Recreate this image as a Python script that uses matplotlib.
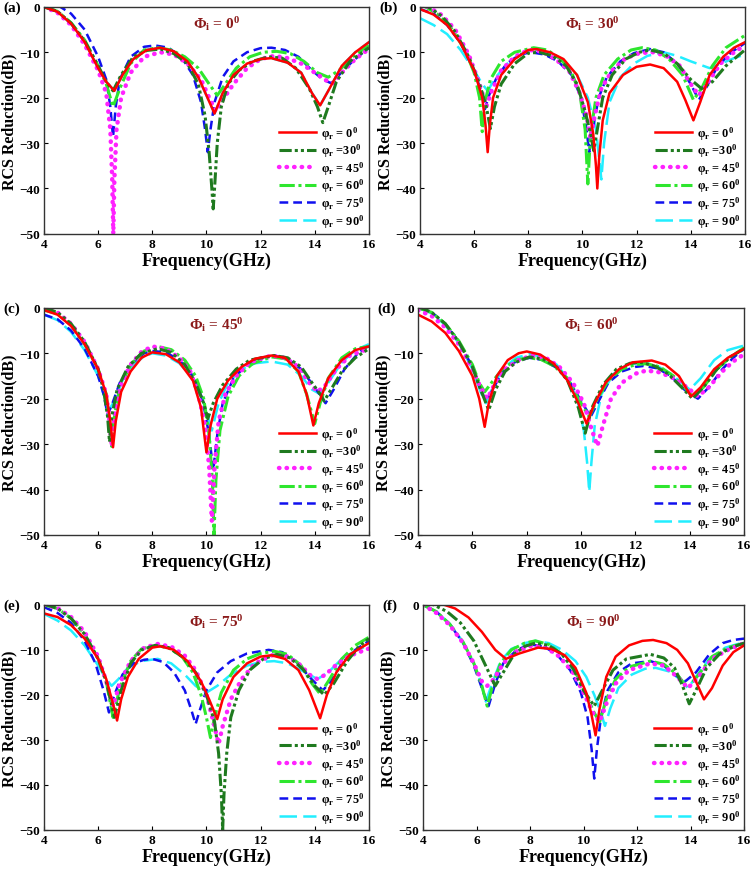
import numpy as np
import matplotlib
matplotlib.use('Agg')
import matplotlib.pyplot as plt

plt.rcParams['font.family'] = ['Liberation Serif', 'DejaVu Serif']
plt.rcParams['font.weight'] = 'bold'
plt.rcParams['mathtext.fontset'] = 'custom'
plt.rcParams['mathtext.rm'] = 'Liberation Serif:bold'
plt.rcParams['mathtext.it'] = 'Liberation Serif:bold'
plt.rcParams['mathtext.bf'] = 'Liberation Serif:bold'

# (frequency GHz, RCS reduction dB)
# panel (a) phi_i = 0
A0 = [(4,0),(4.5,-1.1),(5,-3.7),(5.5,-7.7),(6,-13.5),(6.3,-16.5),(6.6,-18.5),(6.9,-15),(7.3,-11.5),(7.8,-9.5),(8.3,-9),(8.8,-9.8),(9.3,-12),(9.7,-15.5),(10.0,-19.5),(10.3,-23.5),(10.6,-19),(11,-15),(11.5,-12.5),(12,-11.5),(12.4,-11.3),(13,-12.3),(13.5,-14.5),(13.9,-19),(14.2,-21.7),(14.5,-18.5),(15,-13),(15.5,-10),(16,-7.8)]
A30 = [(4,0),(4.5,-1),(5,-3.6),(5.5,-7.5),(6,-13),(6.3,-16.5),(6.55,-18.5),(6.85,-15),(7.3,-11),(7.8,-9.6),(8.3,-9.3),(8.8,-10.3),(9.3,-12.5),(9.7,-17),(9.95,-24),(10.1,-32),(10.2,-40),(10.25,-44.5),(10.3,-40),(10.4,-30),(10.55,-22),(10.8,-17),(11.2,-14),(11.7,-12),(12.3,-11),(12.8,-11.3),(13.3,-13.5),(13.8,-18),(14.1,-22),(14.3,-25.5),(14.5,-22),(14.8,-16.5),(15.3,-12),(16,-9)]
A45 = [(4,0),(4.5,-1.3),(5,-4),(5.5,-8.3),(6,-14),(6.3,-19),(6.45,-27),(6.52,-38),(6.56,-50),(6.6,-38),(6.68,-27),(6.85,-20),(7.2,-14.5),(7.7,-11),(8.3,-10),(8.8,-10.5),(9.3,-12.5),(9.8,-16),(10.1,-20),(10.35,-23),(10.6,-20.5),(11,-17),(11.5,-13.5),(12,-11.5),(12.5,-10.8),(13,-11.3),(13.5,-12.5),(14,-14.5),(14.5,-16.5),(14.7,-16.8),(15,-14.5),(15.5,-11.5),(16,-9.3)]
A60 = [(4,0),(4.5,-1),(5,-3.5),(5.5,-7.3),(6,-13),(6.3,-17),(6.55,-22),(6.8,-18),(7.2,-12.5),(7.7,-9.5),(8.2,-9),(8.7,-9.5),(9.2,-11),(9.7,-13.5),(10.1,-17),(10.4,-19.5),(10.7,-17),(11.1,-13.5),(11.6,-11),(12.1,-10),(12.6,-9.8),(13.1,-10.3),(13.6,-12),(14.1,-14.5),(14.5,-15.5),(14.9,-14),(15.4,-11),(16,-8.5)]
A75 = [(4,0.5),(4.6,0),(5,-1.5),(5.5,-5),(6,-11),(6.3,-16),(6.45,-22),(6.55,-28.7),(6.65,-22),(6.8,-16),(7.2,-11),(7.7,-8.8),(8.1,-8.5),(8.6,-9),(9.1,-11.3),(9.5,-15),(9.8,-21),(9.95,-27),(10.05,-32),(10.15,-27),(10.3,-21),(10.6,-15.5),(11,-12),(11.5,-10),(12,-9.1),(12.4,-9),(12.9,-9.5),(13.4,-11),(13.9,-14),(14.3,-16),(14.6,-16.8),(14.9,-15),(15.4,-12),(16,-9)]
A90 = list(A0)  # hidden under the red curve

# panel (b) phi_i = 30
B0 = [(4,-0.5),(4.5,-1.7),(5,-4),(5.5,-8),(6,-14),(6.3,-20),(6.42,-26),(6.5,-32),(6.58,-26),(6.7,-20),(7.0,-15),(7.5,-11.5),(8.0,-9.5),(8.3,-9.3),(8.8,-10),(9.3,-11.5),(9.8,-15),(10.2,-21),(10.4,-28),(10.5,-35),(10.55,-40),(10.62,-33),(10.75,-25),(11,-19),(11.5,-15),(12,-13.2),(12.5,-12.7),(13,-13.5),(13.5,-16.5),(13.8,-20.5),(14.1,-25),(14.35,-21),(14.7,-15),(15.2,-11),(15.6,-9),(16,-7.8)]
B30 = [(4,0.5),(4.3,0),(4.8,-2),(5.3,-5.5),(5.8,-11),(6.2,-17),(6.45,-22),(6.6,-26.8),(6.75,-22),(7.0,-17),(7.5,-12.5),(8.0,-10.2),(8.4,-10),(8.9,-10.8),(9.4,-13),(9.8,-17),(10.1,-23),(10.3,-28),(10.42,-31.7),(10.55,-27),(10.75,-20),(11.1,-15),(11.6,-11.5),(12.1,-10),(12.5,-9.5),(13,-10.2),(13.5,-12.5),(14,-16),(14.4,-18),(14.8,-16.5),(15.3,-13),(16,-9.5)]
B45 = [(4,0.3),(4.3,0),(4.8,-1.8),(5.3,-5),(5.8,-10.5),(6.2,-17),(6.45,-22),(6.65,-18.5),(7.0,-14),(7.5,-11),(8.0,-9.5),(8.5,-9.8),(9.0,-11.5),(9.5,-14),(9.9,-19),(10.15,-24),(10.3,-29),(10.45,-24),(10.7,-18),(11.1,-14),(11.6,-11.3),(12.1,-10.2),(12.6,-10),(13.1,-10.8),(13.6,-13),(14.0,-17),(14.3,-19.5),(14.6,-17),(15.1,-12.5),(15.6,-10),(16,-8.5)]
B60 = [(4,0.3),(4.2,0),(4.7,-1.8),(5.2,-5),(5.7,-10),(6.0,-14.5),(6.2,-20),(6.3,-27.5),(6.4,-21),(6.6,-16),(7.0,-12),(7.5,-10),(8.2,-9),(8.7,-9.5),(9.2,-11.5),(9.6,-14.5),(9.9,-19),(10.1,-27),(10.2,-39),(10.3,-28),(10.5,-20),(10.8,-15),(11.3,-11.5),(11.8,-9.5),(12.2,-9),(12.7,-9.5),(13.2,-11.5),(13.7,-15),(14.1,-20.5),(14.4,-18),(14.8,-13),(15.3,-9),(16,-6.3)]
B75 = [(4,-0.5),(4.5,-1.5),(5,-4),(5.5,-8),(6,-14),(6.25,-18.5),(6.4,-22.5),(6.55,-19.5),(6.8,-16),(7.2,-12.5),(7.7,-10.5),(8.1,-10),(8.6,-10.5),(9.1,-12),(9.6,-15),(9.95,-20),(10.15,-27),(10.25,-32),(10.38,-27),(10.6,-20),(10.9,-15.5),(11.4,-12),(11.9,-10.2),(12.5,-9.3),(13,-10),(13.5,-12.5),(14,-17),(14.3,-20.5),(14.6,-17.5),(15,-13),(15.5,-10),(16,-8)]
B90 = [(4,-2.5),(4.5,-4),(5,-6),(5.5,-9.5),(6,-14),(6.3,-17),(6.5,-18.5),(6.8,-15.5),(7.3,-12),(7.8,-10.2),(8.3,-9.5),(8.8,-10.2),(9.3,-11.8),(9.8,-15),(10.2,-20),(10.5,-27),(10.7,-38),(10.8,-30),(11,-21),(11.4,-15.5),(11.9,-12.5),(12.4,-10.8),(13.0,-10),(13.5,-10.8),(14.0,-12),(14.7,-13.5),(15.2,-12.3),(15.6,-11.3),(16,-10.5)]

# panel (c) phi_i = 45
C0 = [(4,-0.5),(4.5,-1.5),(5,-4),(5.5,-8),(6,-13.5),(6.3,-19),(6.45,-25),(6.55,-30.7),(6.65,-25),(6.85,-18.5),(7.2,-14),(7.6,-11),(8.0,-9.8),(8.5,-10.2),(9,-12),(9.5,-16),(9.8,-22),(10.0,-31.8),(10.15,-26),(10.4,-20),(10.8,-16),(11.3,-13),(11.8,-11.2),(12.4,-10.5),(12.9,-11),(13.4,-14),(13.7,-19),(13.95,-25.9),(14.15,-21),(14.5,-15.5),(15,-11.5),(15.5,-9.3),(16,-8.5)]
C30 = [(4,0),(4.5,-1),(5,-3.5),(5.5,-7.5),(6,-13.5),(6.2,-18),(6.35,-24),(6.42,-29.5),(6.5,-24),(6.7,-18),(7.1,-13),(7.6,-10),(8.2,-9),(8.7,-9.8),(9.2,-12.5),(9.6,-16.5),(9.9,-21),(10.05,-24.4),(10.25,-21),(10.6,-17),(11.1,-13.5),(11.6,-11.5),(12.5,-10.5),(13,-11),(13.5,-13),(13.9,-16.5),(14.2,-19),(14.35,-20.5),(14.6,-18),(15,-14),(15.5,-11),(16,-9)]
C45 = [(4,0),(4.5,-1),(5,-3.5),(5.5,-7.5),(6,-13.5),(6.3,-19),(6.42,-25),(6.5,-30.5),(6.6,-24),(6.8,-17.5),(7.2,-12.5),(7.6,-9.7),(8.0,-8.5),(8.5,-9),(9,-11),(9.4,-14),(9.7,-19),(9.95,-26),(10.1,-35),(10.2,-47),(10.3,-35),(10.45,-25),(10.7,-19),(11.1,-15),(11.6,-12),(12.4,-10.5),(12.9,-11),(13.4,-13),(13.8,-16.5),(14.1,-18.5),(14.4,-17),(14.8,-13.5),(15.3,-10.5),(16,-9)]
C60 = [(4,-0.5),(4.5,-1.3),(5,-3.8),(5.5,-8),(6,-13.5),(6.3,-19),(6.42,-25),(6.5,-30.5),(6.6,-24),(6.8,-17.5),(7.2,-12.5),(7.7,-9.5),(8.2,-8.5),(8.7,-9.2),(9.2,-11.5),(9.6,-15),(9.9,-20),(10.1,-28),(10.22,-38),(10.28,-50),(10.35,-38),(10.5,-27),(10.8,-19.5),(11.2,-15),(11.7,-12.3),(12.4,-10.8),(12.9,-11.2),(13.4,-14),(13.7,-19),(14.0,-25.5),(14.2,-21),(14.5,-15.5),(15,-11),(15.5,-9),(16,-8.5)]
C75 = [(4,-1.5),(4.5,-2.5),(5,-5),(5.5,-9),(6,-15),(6.2,-19),(6.35,-23.5),(6.5,-21.5),(6.8,-16.5),(7.2,-12.5),(7.7,-10),(8.0,-9.5),(8.5,-9.8),(9,-11.5),(9.5,-15),(9.85,-20),(10.1,-28),(10.25,-35.8),(10.4,-28),(10.6,-21),(11,-15.5),(11.5,-12.5),(12.0,-11),(12.5,-10.5),(13,-11.2),(13.5,-13.5),(14.0,-17.5),(14.4,-21),(14.7,-18),(15.1,-13.5),(15.6,-10),(16,-8.3)]
C90 = [(4,-1.5),(4.5,-2.7),(5,-5.3),(5.5,-9.3),(6,-15),(6.2,-19),(6.4,-22.5),(6.6,-20.5),(6.9,-16),(7.3,-12.5),(7.7,-10.7),(8.0,-10),(8.5,-10.5),(9,-12.2),(9.5,-15.5),(9.9,-21),(10.2,-27),(10.45,-21),(10.8,-16.5),(11.3,-13.5),(11.8,-12.2),(12.4,-11.8),(13,-12.5),(13.5,-15),(13.9,-18),(14.2,-19),(14.5,-16.5),(15,-12),(15.5,-9.3),(16,-8)]

# panel (d) phi_i = 60
D0 = [(4,-1.5),(4.5,-3),(5,-5.5),(5.5,-9.5),(6,-15),(6.25,-20),(6.45,-26.2),(6.6,-21),(6.9,-15),(7.3,-11.5),(7.7,-10),(8.0,-9.6),(8.5,-10.3),(9,-12.3),(9.5,-16),(9.9,-21),(10.2,-25.5),(10.5,-21),(10.9,-16.5),(11.4,-13.5),(11.9,-12),(12.6,-11.6),(13.1,-12.5),(13.6,-15),(14.05,-19.5),(14.4,-17.5),(14.9,-13.5),(15.4,-11),(16,-9)]
D30 = [(4,0.3),(4.5,-1),(5,-3.5),(5.5,-7.5),(6,-13),(6.3,-18),(6.6,-22.5),(6.85,-18),(7.2,-14),(7.6,-12),(8.1,-10.8),(8.6,-11.3),(9.1,-13),(9.5,-16),(9.9,-22),(10.15,-27.6),(10.4,-22),(10.8,-17),(11.3,-13.5),(11.8,-12.2),(12.2,-12),(12.7,-12.8),(13.2,-14.5),(13.7,-17.5),(14.1,-20),(14.5,-17.5),(15,-13.5),(15.5,-10.8),(16,-9)]
D45 = [(4,-0.5),(4.5,-1.8),(5,-4.3),(5.5,-8),(6,-13.5),(6.3,-17.5),(6.55,-20),(6.8,-17),(7.2,-13.5),(7.7,-11.5),(8.2,-10.5),(8.7,-11),(9.2,-13),(9.7,-16.5),(10.1,-21),(10.4,-27),(10.6,-30.4),(10.8,-26),(11.1,-20),(11.5,-16.5),(12,-14.5),(12.4,-13.8),(12.9,-14.2),(13.4,-15.5),(13.9,-17.5),(14.3,-19.5),(14.7,-17.5),(15.2,-14),(15.6,-11.8),(16,-10.2)]
D60 = [(4,0),(4.5,-1),(5,-3.5),(5.5,-7.3),(6,-12.5),(6.25,-16.5),(6.45,-18.5),(6.7,-16.5),(7.1,-13.5),(7.6,-11.5),(8.0,-11),(8.5,-11.3),(9,-12.8),(9.5,-15.5),(9.9,-20),(10.3,-24),(10.6,-20),(11,-16),(11.5,-13.5),(12,-12.5),(12.4,-12.3),(12.9,-13),(13.4,-15),(13.8,-17.5),(14.1,-19.5),(14.5,-17.5),(15,-13.5),(15.5,-10.8),(16,-8.8)]
D75 = [(4,0),(4.5,-1),(5,-3.5),(5.5,-7.5),(6,-13),(6.3,-18),(6.5,-20.5),(6.75,-18),(7.1,-14),(7.6,-11.8),(8.1,-11),(8.6,-11.5),(9.1,-13.2),(9.6,-16.5),(10,-20.5),(10.35,-24),(10.65,-20.5),(11,-16.5),(11.5,-14),(12,-13),(12.3,-12.8),(12.8,-13.3),(13.3,-15),(13.8,-18),(14.3,-20),(14.7,-17.5),(15.2,-13.5),(15.6,-11),(16,-9)]
D90 = [(4,0),(4.5,-1.2),(5,-3.8),(5.5,-7.8),(6,-13.5),(6.3,-18.5),(6.5,-21),(6.75,-17.5),(7.1,-13.5),(7.6,-11),(8.1,-10.2),(8.6,-10.8),(9.1,-12.5),(9.5,-15.5),(9.85,-20),(10.1,-27),(10.22,-34),(10.3,-40.5),(10.38,-34),(10.5,-26),(10.75,-19),(11.2,-14.5),(11.7,-12.5),(12.3,-12),(12.8,-12.8),(13.3,-14.5),(13.7,-16.5),(14.0,-18),(14.4,-15.5),(14.9,-11.5),(15.4,-9.3),(16,-8.3)]

# panel (e) phi_i = 75
E0 = [(4,-1.9),(4.5,-2.7),(5,-4.5),(5.5,-7.5),(6,-12),(6.3,-16.5),(6.55,-22),(6.7,-25.7),(6.85,-21),(7.1,-16),(7.5,-12),(8.0,-9.5),(8.3,-9.2),(8.8,-10),(9.3,-12.5),(9.8,-17),(10.1,-21),(10.4,-25.4),(10.6,-21),(11,-16),(11.5,-13),(12,-11.5),(12.4,-11.2),(12.9,-12),(13.4,-14.5),(13.8,-19),(14.2,-25.2),(14.45,-20),(14.8,-15),(15.3,-11),(16,-8.5)]
E30 = [(4,0.2),(4.5,-0.8),(5,-3),(5.5,-6.5),(6,-12),(6.3,-17),(6.6,-25),(6.85,-19),(7.2,-13),(7.6,-10),(8.1,-9),(8.6,-9.5),(9.1,-11.5),(9.6,-15),(10.0,-20),(10.3,-26),(10.45,-33),(10.55,-42),(10.6,-50),(10.65,-42),(10.75,-33),(10.9,-25),(11.2,-19),(11.6,-14.5),(12.1,-12),(12.6,-11),(13.1,-11.8),(13.6,-14.5),(14.0,-18),(14.35,-20),(14.7,-17.5),(15.2,-12.5),(15.6,-9.5),(16,-7.5)]
E45 = [(4,0),(4.5,-0.7),(5,-2.7),(5.5,-6),(6,-11.5),(6.3,-17),(6.55,-22.5),(6.8,-17.5),(7.2,-12.5),(7.7,-9.5),(8.2,-8.7),(8.7,-9.3),(9.2,-11.3),(9.6,-14.5),(10.0,-20),(10.3,-27),(10.45,-30.9),(10.6,-27),(10.9,-21),(11.3,-16.5),(11.8,-13),(12.5,-11),(13,-11.5),(13.5,-13.5),(13.8,-15.5),(14.1,-16.5),(14.4,-15.5),(14.8,-13.3),(15.3,-11.3),(16,-9.7)]
E60 = [(4,0),(4.5,-0.8),(5,-3),(5.5,-6.5),(6,-12),(6.3,-17),(6.55,-25),(6.8,-18.5),(7.2,-12.5),(7.6,-9.8),(8.1,-9),(8.6,-9.5),(9.1,-11.5),(9.5,-15),(9.8,-20),(10.0,-25),(10.15,-29.5),(10.3,-25),(10.55,-19.5),(11,-14.5),(11.5,-12),(12,-10.8),(12.5,-10.3),(13,-11),(13.5,-13.5),(13.9,-17.5),(14.2,-19.8),(14.5,-17),(15,-12),(15.5,-9),(16,-7.2)]
E75 = [(4,-0.5),(4.5,-1.8),(5,-4),(5.5,-8),(5.9,-13),(6.2,-19),(6.4,-23.9),(6.6,-20),(6.9,-15.5),(7.3,-13),(7.7,-12.2),(8.0,-12),(8.4,-12.7),(8.8,-15),(9.2,-19),(9.45,-23.5),(9.6,-26.5),(9.75,-23.5),(10.0,-19),(10.4,-15),(10.9,-12.5),(11.5,-10.8),(12.3,-10),(12.8,-10.5),(13.3,-12.5),(13.8,-16),(14.3,-19),(14.6,-17),(15,-13),(15.5,-10),(16,-8)]
E90 = [(4,-2),(4.5,-3.5),(5,-5.7),(5.5,-9),(6,-13.5),(6.3,-16.5),(6.5,-18),(6.75,-16.5),(7.1,-14),(7.6,-12.5),(8.2,-12),(8.7,-13),(9.2,-15.5),(9.6,-18),(10.0,-19.5),(10.4,-18),(10.9,-15.5),(11.5,-13.5),(12.0,-12.7),(12.5,-12.5),(13,-13),(13.5,-14.5),(14.1,-16.5),(14.5,-15),(15,-12),(15.5,-10.2),(16,-9)]

# panel (f) phi_i = 90
F0 = [(4,1),(4.5,0.5),(4.8,0),(5.2,-0.8),(5.7,-2.8),(6.2,-6),(6.7,-10),(7.1,-12),(7.6,-10.8),(8.3,-9.5),(8.8,-9.8),(9.3,-11.2),(9.7,-14),(10.1,-19.5),(10.3,-24.5),(10.45,-29),(10.6,-23),(10.85,-16),(11.2,-11.5),(11.7,-9),(12.2,-8),(12.6,-7.8),(13.1,-8.5),(13.5,-10),(13.9,-13),(14.2,-17),(14.5,-21),(14.8,-18.5),(15.2,-13.5),(15.6,-10.5),(16,-9)]
F30 = [(4,1),(4.4,0),(4.9,-1.5),(5.4,-4),(5.9,-8),(6.3,-13),(6.7,-18),(7.0,-15),(7.4,-11),(7.8,-9.2),(8.2,-8.5),(8.7,-9),(9.2,-11),(9.6,-14),(10.0,-19),(10.4,-22.5),(10.7,-19),(11.1,-14.5),(11.6,-12),(12.5,-11),(13.0,-11.8),(13.4,-14),(13.7,-18),(13.95,-22),(14.2,-19),(14.6,-14),(15.1,-10.8),(15.6,-9.3),(16,-8.5)]
F45 = [(4,0),(4.5,-1.8),(5,-4.5),(5.5,-8.5),(5.9,-13),(6.2,-17),(6.4,-18),(6.65,-16.5),(7.0,-13),(7.5,-10.3),(8.1,-9),(8.6,-9.5),(9.1,-11.5),(9.6,-15),(10.0,-19.5),(10.35,-24),(10.6,-26),(10.85,-22),(11.2,-17.5),(11.7,-14.5),(12.5,-13),(13,-13.5),(13.5,-16),(13.9,-18.5),(14.3,-16),(14.8,-12),(15.4,-10),(16,-8.5)]
F60 = [(4,0),(4.5,-1.5),(5,-4.3),(5.5,-8.3),(5.9,-13),(6.2,-18),(6.4,-22.5),(6.6,-18),(6.9,-13),(7.3,-10),(7.8,-8.5),(8.2,-8),(8.7,-8.8),(9.2,-11),(9.7,-15),(10.1,-20),(10.4,-24),(10.6,-26),(10.85,-21),(11.2,-16.5),(11.7,-13.8),(12.5,-12.5),(13,-13.2),(13.5,-15.5),(13.9,-18.5),(14.3,-15.5),(14.8,-11.5),(15.4,-9.5),(16,-8.5)]
F75 = [(4,0),(4.5,-1.5),(5,-4.3),(5.5,-8.5),(5.9,-13.5),(6.2,-18.5),(6.45,-22.5),(6.7,-17.5),(7.0,-13),(7.5,-10),(8.0,-8.8),(8.5,-9.2),(9.0,-11),(9.5,-14.5),(9.9,-19.5),(10.15,-25),(10.3,-32),(10.4,-38.6),(10.5,-32),(10.65,-25),(10.9,-19),(11.3,-15),(11.8,-13),(12.5,-12.5),(13,-13.5),(13.4,-15.5),(13.8,-17),(14.2,-15),(14.7,-11),(15.2,-8.5),(15.6,-7.8),(16,-7.5)]
F90 = [(4,0),(4.5,-1.5),(5,-4.2),(5.5,-8.3),(5.9,-13),(6.15,-17),(6.35,-21.5),(6.55,-18),(6.9,-12.5),(7.3,-9.8),(7.8,-8.5),(8.2,-8),(8.7,-8.5),(9.2,-10),(9.7,-12.5),(10.1,-16),(10.4,-20),(10.65,-24),(10.8,-26.9),(11.0,-23),(11.3,-18.5),(11.8,-15.5),(12.3,-14.2),(12.7,-14),(13.2,-14.8),(13.6,-16.5),(13.9,-18.5),(14.2,-16),(14.7,-12),(15.3,-9.5),(16,-8.3)]

panel_tags = ['(a)', '(b)', '(c)', '(d)', '(e)', '(f)']
phi_i = ['0', '30', '45', '60', '75', '90']
legend_labels = ['φ$_r$ = 0$^0$', 'φ$_r$ =30$^0$', 'φ$_r$ = 45$^0$',
                 'φ$_r$ = 60$^0$', 'φ$_r$ = 75$^0$', 'φ$_r$ = 90$^0$']
panels = [[A0, A30, A45, A60, A75, A90],
          [B0, B30, B45, B60, B75, B90],
          [C0, C30, C45, C60, C75, C90],
          [D0, D30, D45, D60, D75, D90],
          [E0, E30, E45, E60, E75, E90],
          [F0, F30, F45, F60, F75, F90]]

styles = [dict(color='red', ls='-', lw=1.8),
          dict(color='#1f7a1f', ls=(0, (4, 1, 1, 1, 1, 1)), lw=2.2),
          dict(color='#ff22ff', ls=(0, (0.1, 1.6)), lw=3.2, dash_capstyle='round'),
          dict(color='#2ee62e', ls=(0, (5, 1.2, 1, 1.2)), lw=2.2),
          dict(color='#1010ee', ls=(0, (3.5, 2)), lw=1.8),
          dict(color='#22eeff', ls=(0, (7, 2.5)), lw=1.8)]

# axes boxes [left, bottom, width, height] in figure fractions
boxes = [[0.0585, 0.730, 0.432, 0.261],
         [0.5585, 0.730, 0.432, 0.261],
         [0.0585, 0.384, 0.432, 0.261],
         [0.5560, 0.384, 0.4335, 0.261],
         [0.0585, 0.045, 0.432, 0.2586],
         [0.5625, 0.045, 0.427, 0.2586]]

fig = plt.figure(figsize=(7.52, 8.70), dpi=100)

for k in range(6):
    ax = fig.add_axes(boxes[k])
    handles = [None] * 6
    for j in [5, 4, 3, 2, 1, 0]:
        pts = np.array(panels[k][j])
        h, = ax.plot(pts[:, 0], pts[:, 1], label=legend_labels[j], **styles[j])
        handles[j] = h
    ax.set_xlim(4, 16)
    ax.set_ylim(-50, 0)
    ax.set_xticks([4, 6, 8, 10, 12, 14, 16])
    ax.set_yticks([-50, -40, -30, -20, -10, 0])
    ax.tick_params(direction='in', labelsize=9.5, length=3, width=0.8, pad=3)
    for lab in ax.get_xticklabels() + ax.get_yticklabels():
        lab.set_fontweight('bold')
    for sp in ax.spines.values():
        sp.set_linewidth(1.0)
        sp.set_color('#333333')
    ax.set_xlabel('Frequency(GHz)', fontsize=13, fontweight='bold', labelpad=1)
    ax.set_ylabel('RCS Reduction(dB)', fontsize=11.5, fontweight='bold', labelpad=1)
    ax.text(0.53, 0.93, 'Φ$_i$ = ' + phi_i[k] + '$^0$', transform=ax.transAxes,
            ha='center', va='center', fontsize=11, fontweight='bold', color='#8b1a1a')
    ax.text(-0.125, 1.0, panel_tags[k], transform=ax.transAxes, ha='left', va='center',
            fontsize=11, fontweight='bold')
    ax.legend(handles=handles, loc='lower right', frameon=False, fontsize=8.8,
              handlelength=3.0, labelspacing=0.0, borderaxespad=0.05, borderpad=0.3,
              handletextpad=0.45)

fig.savefig('out.png', dpi=100)
